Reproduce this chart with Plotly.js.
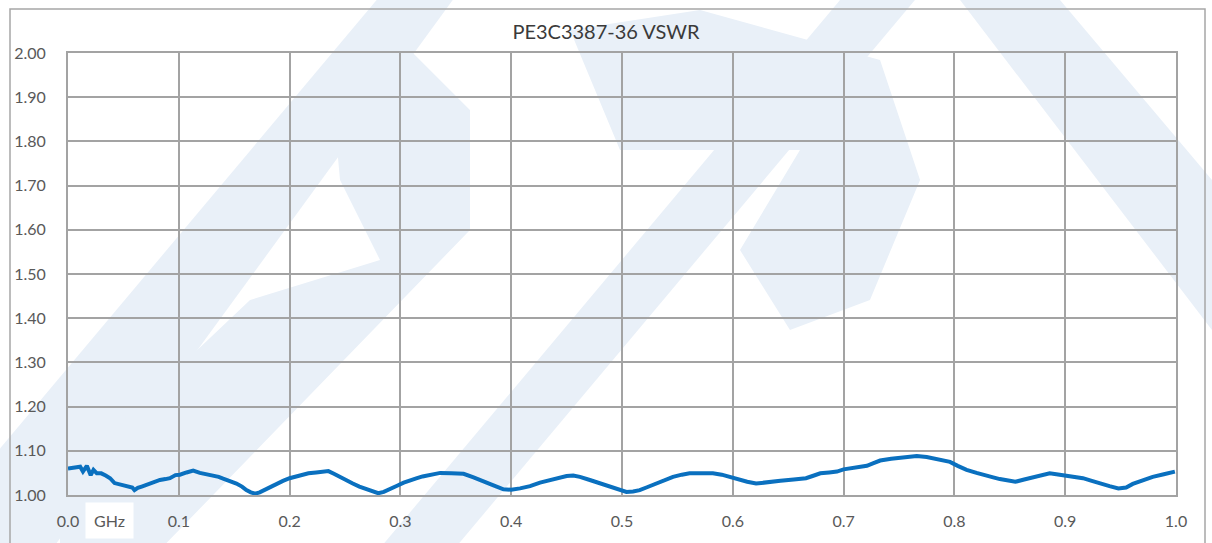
<!DOCTYPE html>
<html>
<head>
<meta charset="utf-8">
<script src="https://cdn.plot.ly/plotly-3.0.1.min.js"></script>
<style>html,body{margin:0;padding:0;background:#fff;}#chart{width:1212px;height:543px;}</style>
</head>
<body>
<div id="chart"></div>
<script>
// Frequency (GHz)
var freqGHz = [0.000,0.006,0.011,0.0135,0.017,0.0205,0.023,0.026,0.030,0.034,0.038,0.042,0.048,0.052,0.056,0.058,0.060,0.063,0.0665,0.070,0.074,0.078,0.083,0.088,0.092,0.097,0.101,0.107,0.113,0.119,0.125,0.131,0.136,0.140,0.146,0.152,0.157,0.161,0.165,0.169,0.173,0.176,0.182,0.188,0.194,0.200,0.209,0.217,0.224,0.230,0.235,0.240,0.245,0.251,0.257,0.263,0.270,0.275,0.280,0.285,0.291,0.297,0.303,0.309,0.315,0.320,0.325,0.336,0.346,0.357,0.366,0.375,0.384,0.393,0.400,0.408,0.417,0.426,0.434,0.442,0.450,0.456,0.462,0.471,0.480,0.488,0.496,0.504,0.510,0.516,0.522,0.528,0.537,0.546,0.554,0.561,0.570,0.582,0.590,0.597,0.605,0.613,0.621,0.632,0.643,0.655,0.666,0.672,0.679,0.687,0.694,0.700,0.710,0.721,0.727,0.733,0.743,0.754,0.766,0.775,0.781,0.790,0.796,0.803,0.811,0.820,0.829,0.835,0.841,0.848,0.855,0.863,0.871,0.878,0.886,0.892,0.898,0.907,0.916,0.924,0.931,0.940,0.948,0.955,0.961,0.970,0.979,0.989,0.999];
// VSWR values
var vswr = [1.060,1.061,1.064,1.053,1.066,1.045,1.057,1.049,1.049,1.044,1.038,1.027,1.023,1.022,1.019,1.017,1.011,1.016,1.019,1.022,1.026,1.030,1.034,1.036,1.038,1.045,1.046,1.051,1.055,1.050,1.047,1.043,1.041,1.037,1.032,1.026,1.019,1.011,1.006,1.003,1.006,1.010,1.018,1.026,1.032,1.038,1.045,1.049,1.051,1.053,1.054,1.048,1.041,1.034,1.026,1.019,1.013,1.008,1.004,1.007,1.013,1.021,1.028,1.034,1.038,1.042,1.045,1.050,1.049,1.048,1.040,1.030,1.022,1.013,1.012,1.015,1.020,1.028,1.033,1.038,1.043,1.044,1.041,1.034,1.026,1.019,1.012,1.007,1.008,1.011,1.017,1.023,1.032,1.041,1.046,1.049,1.049,1.049,1.046,1.041,1.035,1.030,1.026,1.028,1.032,1.035,1.038,1.043,1.049,1.051,1.053,1.058,1.061,1.066,1.072,1.078,1.082,1.085,1.088,1.086,1.083,1.080,1.075,1.066,1.057,1.050,1.045,1.040,1.036,1.033,1.030,1.035,1.040,1.045,1.049,1.047,1.045,1.042,1.038,1.032,1.026,1.020,1.015,1.017,1.025,1.033,1.041,1.047,1.053];
var xTicks = [0,0.1,0.2,0.3,0.4,0.5,0.6,0.7,0.8,0.9,1.0];
var xTickText = ['0.0','0.1','0.2','0.3','0.4','0.5','0.6','0.7','0.8','0.9','1.0'];
var yTicks = [1.0,1.1,1.2,1.3,1.4,1.5,1.6,1.7,1.8,1.9,2.0];
var yTickText = ['1.00','1.10','1.20','1.30','1.40','1.50','1.60','1.70','1.80','1.90','2.00'];
var chartTitle = 'PE3C3387-36 VSWR';
var unitLabel = 'GHz';

// pixel -> paper helpers (plot area 68..1176 x 53..495)
function px(x){return (x-68)/1108;}
function py(y){return (495-y)/442;}
function P(pts){return pts.map(function(p,i){return (i?'L':'M')+px(p[0]).toFixed(4)+','+py(p[1]).toFixed(4);}).join(' ')+' Z';}
var wm = '#e9f0f8';
var shapes = [];
function band(pts){shapes.push({type:'path',xref:'paper',yref:'paper',path:P(pts),fillcolor:wm,line:{width:0},layer:'below'});}
// faint watermark approximation
band([[-60,520],[385,-10],[460,-10],[15,600]]);
band([[330,70],[400,40],[470,110],[470,230],[150,560],[60,560],[60,480],[250,300],[380,260],[340,180]]);
band([[370,560],[840,0],[915,0],[445,560]]);
band([[570,30],[700,10],[880,60],[920,180],[870,300],[790,330],[740,250],[800,150],[620,150]]);
band([[960,0],[1060,0],[1212,180],[1212,330]]);
// outer chart border
shapes.push({type:'rect',xref:'paper',yref:'paper',x0:px(10),x1:px(1205),y0:py(560),y1:py(9),line:{color:'#a6a6a6',width:1.5},fillcolor:'rgba(0,0,0,0)',layer:'above'});

var trace = {x:freqGHz,y:vswr,type:'scatter',mode:'lines',line:{color:'#0a70bf',width:4},hoverinfo:'x+y'};
var axisFont = {family:'Lato, "Open Sans", sans-serif',size:16,color:'#595959'};
var layout = {
  width:1212,height:543,
  margin:{l:68,r:36,t:53,b:48,pad:0},
  paper_bgcolor:'#ffffff',plot_bgcolor:'rgba(0,0,0,0)',
  showlegend:false,
  title:{text:chartTitle,font:{family:'Lato, "Open Sans", sans-serif',size:20,color:'#3a3a3a'},x:0.5,xanchor:'center',y:1-32/543,yanchor:'middle',yref:'container'},
  xaxis:{range:[0,1],tickvals:xTicks,ticktext:xTickText,showgrid:true,gridcolor:'#a3a3a3',gridwidth:2,zeroline:false,showline:true,linecolor:'#a3a3a3',linewidth:2,mirror:true,ticks:'',ticklabelstandoff:11,tickfont:axisFont,fixedrange:true},
  yaxis:{range:[1,2],tickvals:yTicks,ticktext:yTickText,showgrid:true,gridcolor:'#a3a3a3',gridwidth:2,zeroline:false,showline:true,linecolor:'#a3a3a3',linewidth:2,mirror:true,ticks:'',ticklabelstandoff:17,tickfont:axisFont,fixedrange:true},
  shapes:shapes,
  annotations:[{text:unitLabel,xref:'paper',yref:'paper',x:px(109),y:py(520),xanchor:'center',yanchor:'middle',showarrow:false,bgcolor:'#ffffff',borderpad:8,font:axisFont}]
};
Plotly.newPlot('chart',[trace],layout,{displayModeBar:false,staticPlot:true});
</script>
</body>
</html>
